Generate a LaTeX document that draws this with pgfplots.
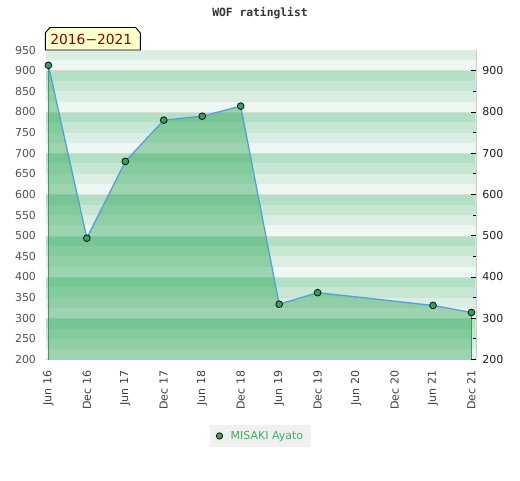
\documentclass[border=0pt]{standalone}
\usepackage{pgfplots}
\pgfplotsset{compat=1.18}
\usepackage{fontspec}
\setmainfont{DejaVu Sans}
\newfontfamily\monofont{DejaVu Sans Mono}
\definecolor{sA}{RGB}{179,223,196}
\definecolor{sB}{RGB}{199,231,211}
\definecolor{sC}{RGB}{220,238,227}
\definecolor{sD}{RGB}{239,247,242}
\definecolor{gridc}{RGB}{216,222,218}
\definecolor{fillg}{RGB}{30,160,75}
\definecolor{lineb}{RGB}{84,160,220}
\definecolor{markg}{RGB}{52,160,92}
\definecolor{legg}{RGB}{60,174,100}
\definecolor{framec}{RGB}{208,208,208}
\definecolor{boxy}{RGB}{255,255,204}
\definecolor{boxr}{RGB}{139,0,0}
\begin{document}
\begin{tikzpicture}[x=1pt,y=1pt]
\path[use as bounding box] (0,0) rectangle (520,480);
\node[font=\monofont\bfseries\fontsize{11.3}{13}\selectfont, text=black!80] at (260,467) {WOF ratinglist};
\begin{axis}[
  at={(45.7pt,120.5pt)}, anchor=south west,
  scale only axis, width=430pt, height=309.5pt,
  xmin=-0.07, xmax=11.11, ymin=200, ymax=950,
  axis line style={framec},
  xtick={0,...,11},
  xticklabels={Jun 16,Dec 16,Jun 17,Dec 17,Jun 18,Dec 18,Jun 19,Dec 19,Jun 20,Dec 20,Jun 21,Dec 21},
  xticklabel style={rotate=90, anchor=east, inner sep=0pt, font=\fontsize{11}{13}\selectfont, text=black!75},
  xticklabel shift=11pt,
  ytick={200,250,...,950},
  yticklabel style={inner sep=0pt, font=\fontsize{11}{13}\selectfont, text=black!68},
  yticklabel shift=9.5pt,
  major tick length=0pt,
  /pgf/number format/assume math mode=true,
  legend style={at={(0.5,-0.247)}, anchor=center, fill=black!6, draw=none,
    font=\fontsize{11}{13}\selectfont, text=legg, inner xsep=6pt, inner ysep=4.5pt},
  legend cell align=left,
]
\fill[sA] (axis cs:-0.07,200) rectangle (axis cs:11.11,950);
\pgfplotsinvokeforeach{2,...,8}{
  \fill[sD] (axis cs:-0.07,#100) rectangle (axis cs:11.11,#125);
  \fill[sC] (axis cs:-0.07,#125) rectangle (axis cs:11.11,#150);
  \fill[sB] (axis cs:-0.07,#150) rectangle (axis cs:11.11,#175);
  \draw[gridc] (axis cs:-0.07,#100) -- (axis cs:11.11,#100);
}
\fill[sD] (axis cs:-0.07,900) rectangle (axis cs:11.11,925);
\fill[sC] (axis cs:-0.07,925) rectangle (axis cs:11.11,950);
\draw[gridc] (axis cs:-0.07,900) -- (axis cs:11.11,900);

\addplot[draw=none, fill=fillg, fill opacity=0.4, forget plot] coordinates {
 (0,913) (1,494) (2,680) (3,780) (4,789.5) (5,814) (6,334) (7,362) (10,331) (11,314)
} \closedcycle;
\addplot[markg, line width=1pt, forget plot] coordinates {(0,200) (0,913)};
\addplot[markg, line width=1pt, forget plot] coordinates {(11,200) (11,314)};
\addplot[lineb, line width=1.3pt, mark=*, mark size=3.4pt,
  mark options={fill=markg, draw=black, line width=0.7pt}, forget plot] coordinates {
 (0,913) (1,494) (2,680) (3,780) (4,789.5) (5,814) (6,334) (7,362) (10,331) (11,314)
};
\addlegendimage{only marks, mark=*, mark size=3.2pt, mark options={fill=markg, draw=black, line width=0.7pt}}
\addlegendentry{\hspace{6pt}MISAKI Ayato}
\end{axis}
\begin{axis}[
  at={(45.7pt,120.5pt)}, anchor=south west,
  scale only axis, width=430pt, height=309.5pt,
  xmin=-0.07, xmax=11.11, ymin=200, ymax=950,
  hide x axis, axis y line*=right,
  axis line style={framec},
  ytick={200,300,...,900}, minor ytick={250,350,...,850},
  tick align=inside, major tick length=5pt, minor tick length=2.5pt,
  tick style={black, line width=0.8pt},
  yticklabel style={inner sep=0pt, font=\fontsize{11}{13}\selectfont, text=black!88},
  yticklabel shift=6.5pt,
  /pgf/number format/assume math mode=true,
]
\addplot[draw=none] coordinates {(0,200)};
\end{axis}
\draw[black, fill=boxy, line width=0.9pt] (45.3,430) -- (45.3,447) -- (49.8,452.5) -- (135.6,452.5) -- (140.3,447) -- (140.3,430) -- cycle;
\node[font=\fontsize{13.8}{15}\selectfont, text=boxr, inner sep=0pt] at (91.3,440.5) {2016−2021};
\end{tikzpicture}
\end{document}
